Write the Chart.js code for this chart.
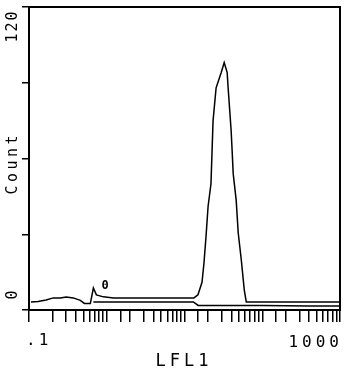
<!DOCTYPE html>
<html>
<head>
<meta charset="utf-8">
<script src="https://cdn.jsdelivr.net/npm/chart.js@4.4.1/dist/chart.umd.min.js"></script>
<style>
html, body { margin: 0; padding: 0; background: #fff; }
#wrap { width: 350px; height: 370px; }
</style>
</head>
<body>
<div id="wrap"><canvas id="histChart" width="350" height="370"></canvas></div>
<script>
// Stained sample: LFL1 channel value and event count
const mainLfl = [0.106, 0.131, 0.166, 0.205, 0.252, 0.301, 0.371, 0.457, 0.515, 0.615, 0.673, 0.736, 0.906, 1.22, 2.57, 6.28, 13.2,
    14.9, 16.8, 17.8, 18.9, 20.1, 21.9, 23.3, 25.5, 29.6, 32.4, 35.4, 36.4, 39.8, 41.0, 42.3, 46.2, 49.1, 53.7, 58.7, 62.3, 124, 300, 1000];
const mainCount = [3.2, 3.4, 4.0, 4.8, 4.8, 5.1, 4.8, 3.8, 2.6, 2.6, 8.7, 6.0, 5.2, 4.8, 4.8, 4.8, 4.8,
    6, 11, 18.6, 29, 41, 50, 75, 88, 94, 98, 94, 88, 71, 63, 54, 43.5, 30.5, 20, 8, 3.2, 3.2, 3.2, 3.2];

// Control sample
const ctrlLfl = [0.673, 0.9, 2, 6, 13, 15, 40, 100, 400, 1000];
const ctrlCount = [3.2, 3.2, 3.2, 3.2, 3.2, 1.8, 1.8, 1.8, 1.6, 1.6];

// Axis labels
const xTickLabels = ['.1', '1000'];
const yTickLabels = ['0', '120'];
const xTitle = 'LFL1';
const yTitle = 'Count';
const markerLabel = '0';

const FONT = "'DejaVu Sans Mono', monospace";

function toPoints(xs, ys) {
    return xs.map((v, i) => ({ x: v, y: ys[i] }));
}

// draws frame and all the old-style rotated labels
const framePlugin = {
    id: 'frame',
    afterDraw(chart) {
        const ctx = chart.ctx;
        const a = chart.chartArea;
        ctx.save();
        ctx.strokeStyle = '#000';
        ctx.lineWidth = 2;
        ctx.strokeRect(a.left, a.top, a.right - a.left, a.bottom - a.top);

        ctx.fillStyle = '#000';
        ctx.textBaseline = 'middle';
        ctx.textAlign = 'center';

        // rotated y texts
        const rot = (txt, x, y, spacing) => {
            ctx.save();
            ctx.translate(x, y);
            ctx.rotate(-Math.PI / 2);
            ctx.letterSpacing = spacing + 'px';
            ctx.font = '15px ' + FONT;
            ctx.fillText(txt, spacing / 2, 0);
            ctx.restore();
        };
        rot(yTickLabels[1], 13, 27, 2);
        rot(yTitle, 13, 165, 3.5);
        rot(yTickLabels[0], 13, 295, 0);

        // x texts
        ctx.font = '16px ' + FONT;
        ctx.textBaseline = 'alphabetic';
        ctx.letterSpacing = '3px';
        ctx.textAlign = 'left';
        ctx.fillText(xTickLabels[0], 26, 345);
        ctx.letterSpacing = '4px';
        ctx.textAlign = 'right';
        ctx.fillText(xTickLabels[1], 343, 347);
        ctx.font = '17px ' + FONT;
        ctx.textAlign = 'center';
        ctx.fillText(xTitle, 184, 366);

        // gate marker
        const xs = chart.scales.x;
        const ys = chart.scales.y;
        ctx.letterSpacing = '0px';
        ctx.font = 'bold 12px ' + FONT;
        ctx.fillText(markerLabel, xs.getPixelForValue(0.95), ys.getPixelForValue(8.5));
        ctx.restore();
    }
};

new Chart(document.getElementById('histChart'), {
    type: 'line',
    data: {
        datasets: [{
            label: 'Sample',
            data: toPoints(mainLfl, mainCount),
            borderColor: '#000',
            borderWidth: 1.5,
            pointRadius: 0,
            tension: 0
        }, {
            label: 'Control',
            data: toPoints(ctrlLfl, ctrlCount),
            borderColor: '#000',
            borderWidth: 1.5,
            pointRadius: 0,
            tension: 0
        }]
    },
    options: {
        responsive: false,
        animation: false,
        layout: { padding: { left: 0, top: 7, right: 10, bottom: 0 } },
        plugins: {
            legend: { display: false },
            tooltip: { enabled: false }
        },
        scales: {
            x: {
                type: 'logarithmic',
                min: 0.1,
                max: 1000,
                ticks: { display: false, autoSkip: false },
                grid: {
                    drawOnChartArea: false,
                    drawTicks: true,
                    tickLength: 12,
                    color: '#000',
                    lineWidth: 1.5
                },
                border: { display: true, color: '#000', width: 2 },
                afterFit: (scale) => { scale.height = 60; }
            },
            y: {
                type: 'linear',
                min: 0,
                max: 120,
                ticks: { display: false, stepSize: 30 },
                grid: {
                    drawOnChartArea: false,
                    drawTicks: true,
                    tickLength: 7,
                    color: '#000',
                    lineWidth: 1.5
                },
                border: { display: true, color: '#000', width: 2 },
                afterFit: (scale) => { scale.width = 29; }
            }
        }
    },
    plugins: [framePlugin]
});
</script>
</body>
</html>
